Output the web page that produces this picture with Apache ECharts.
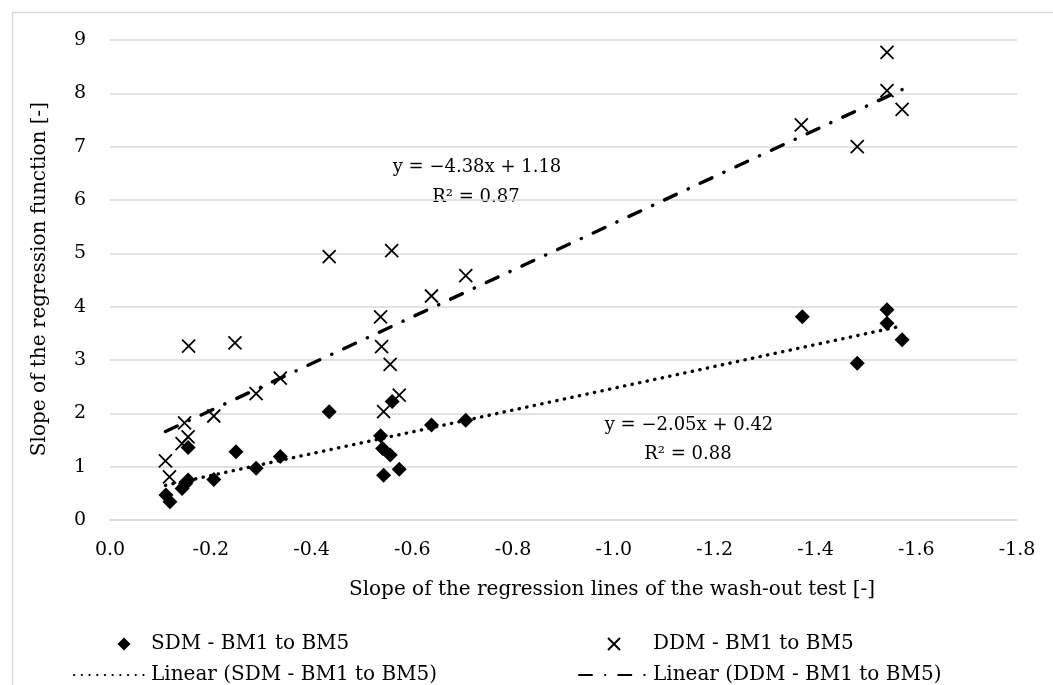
<!DOCTYPE html>
<html>
<head>
<meta charset="utf-8">
<script src="https://cdn.jsdelivr.net/npm/echarts@6/dist/echarts.min.js"></script>
<style>html,body{margin:0;padding:0;background:#fff}#c{width:1053px;height:685px}</style>
</head>
<body>
<div id="c"></div>
<script>
// SDM - BM1 to BM5 : [x, y]
var sdmPoints = [
  [-0.111, 0.47], [-0.119, 0.34], [-0.143, 0.59], [-0.150, 0.68], [-0.155, 0.75],
  [-0.155, 1.36], [-0.206, 0.76], [-0.250, 1.28], [-0.290, 0.97], [-0.338, 1.19],
  [-0.435, 2.03], [-0.537, 1.58], [-0.541, 1.34], [-0.556, 1.22], [-0.543, 0.84],
  [-0.560, 2.22], [-0.574, 0.95], [-0.638, 1.78], [-0.706, 1.87],
  [-1.374, 3.81], [-1.483, 2.94], [-1.542, 3.94], [-1.542, 3.69], [-1.572, 3.38]
];
// DDM - BM1 to BM5 : [x, y]
var ddmPoints = [
  [-0.110, 1.11], [-0.118, 0.81], [-0.143, 1.43], [-0.155, 1.56], [-0.148, 1.82],
  [-0.156, 3.26], [-0.206, 1.95], [-0.248, 3.32], [-0.290, 2.37], [-0.338, 2.66],
  [-0.435, 4.94], [-0.537, 3.81], [-0.539, 3.25], [-0.543, 2.03], [-0.556, 2.92],
  [-0.559, 5.05], [-0.574, 2.34], [-0.638, 4.20], [-0.706, 4.58],
  [-1.372, 7.41], [-1.483, 7.00], [-1.542, 8.77], [-1.542, 8.05], [-1.572, 7.70]
];
// Linear trend lines (end points)
var sdmTrend = [[-0.110, 0.65], [-1.572, 3.64]];
var ddmTrend = [[-0.110, 1.66], [-1.572, 8.07]];
var xTicks = { min: -1.8, max: 0, step: 0.2 };
var yTicks = { min: 0, max: 9, step: 1 };
var names = ['SDM - BM1 to BM5', 'DDM - BM1 to BM5', 'Linear (SDM - BM1 to BM5)', 'Linear (DDM - BM1 to BM5)'];
var eqDDM = ['y = \u22124.38x + 1.18', 'R\u00B2 = 0.87'];
var eqSDM = ['y = \u22122.05x + 0.42', 'R\u00B2 = 0.88'];
var xTitle = 'Slope of the regression lines of the wash-out test [-]';
var yTitle = 'Slope of the regression function [-]';

var FONT = 'DejaVu Serif';
var FS = 20;      // titles and legend
var FS_TICK = 19; // tick labels
var FS_EQ = 18;   // equation labels
var crossPath = 'path://M0,0L10,10M10,0L0,10';
// legend icons: glyph placed inside a wider invisible box so it sits right of centre like the reference
var diamondIcon = 'path://M0,0M72,14M50,0.5L56.5,7L50,13.5L43.5,7Z';
var crossIcon = 'path://M0,0M69,14M29,1L41,13M41,1L29,13';
var chart = echarts.init(document.getElementById('c'), null, { renderer: 'canvas' });
var txt = { fontFamily: FONT, fontSize: FS, color: '#000' };
var tickTxt = { fontFamily: FONT, fontSize: FS_TICK, color: '#000' };
var hidden = { color: 'rgba(0,0,0,0)', borderWidth: 0, opacity: 0 };
function t(x, y, s, size, rot) {
  return { type: 'text', x: x, y: y, rotation: rot || 0, silent: true,
    style: { text: s, align: 'center', verticalAlign: 'middle', font: size + 'px "' + FONT + '"', fill: '#000' } };
}
chart.setOption({
  animation: false,
  backgroundColor: '#fff',
  textStyle: { fontFamily: FONT },
  grid: { left: 110, right: 36, top: 40, bottom: 165, containLabel: false },
  xAxis: {
    type: 'value', inverse: true, min: xTicks.min, max: xTicks.max, interval: xTicks.step,
    axisLine: { show: true, onZero: false, lineStyle: { color: '#d9d9d9', width: 1.5 } },
    axisTick: { show: false },
    splitLine: { show: false },
    axisLabel: Object.assign({ margin: 21, formatter: function (v) { return (Math.abs(v) < 1e-9 ? 0 : v).toFixed(1); } }, tickTxt)
  },
  yAxis: {
    type: 'value', min: yTicks.min, max: yTicks.max, interval: yTicks.step,
    axisLine: { show: false }, axisTick: { show: false },
    splitLine: { show: true, lineStyle: { color: '#d9d9d9', width: 1.5 } },
    axisLabel: Object.assign({ margin: 24 }, tickTxt)
  },
  legend: [
    {
      left: 73, top: 634, height: 90, orient: 'vertical', padding: 0, itemWidth: 72, itemHeight: 14, itemGap: 11,
      textStyle: txt,
      data: [
        { name: names[0], icon: diamondIcon, itemStyle: { color: '#000' } },
        { name: names[2], itemStyle: hidden }
      ]
    },
    {
      left: 578, top: 634, height: 90, orient: 'vertical', padding: 0, itemWidth: 69, itemHeight: 14, itemGap: 11,
      textStyle: txt,
      data: [
        { name: names[1], icon: crossIcon },
        { name: names[3], itemStyle: hidden }
      ]
    }
  ],
  series: [
    {
      name: names[0], type: 'scatter', data: sdmPoints, symbol: 'diamond', symbolSize: 15,
      itemStyle: { color: '#000', opacity: 1 }, z: 3
    },
    {
      name: names[1], type: 'scatter', data: ddmPoints, symbol: crossPath, symbolSize: 13,
      itemStyle: { color: 'rgba(0,0,0,0)', borderColor: '#000', borderWidth: 1.8, opacity: 1 }, z: 3
    },
    {
      name: names[2], type: 'line', data: sdmTrend, symbol: 'none', z: 2,
      itemStyle: { color: '#000' },
      lineStyle: { color: '#000', width: 3.4, type: [0.3, 7.4], cap: 'round' }
    },
    {
      name: names[3], type: 'line', data: ddmTrend, symbol: 'none', z: 2,
      itemStyle: { color: '#000' },
      lineStyle: { color: '#000', width: 3.4, type: [13, 13, 0.3, 13], cap: 'round' }
    }
  ],
  graphic: [
    { type: 'rect', left: 10, top: 10, silent: true, z: -1, shape: { width: 1100, height: 700 }, style: { fill: 'none', stroke: '#d9d9d9', lineWidth: 1.5 } },
    t(612, 590, xTitle, FS),
    t(40, 279, yTitle, FS, Math.PI / 2),
    t(477, 167, eqDDM[0], FS_EQ),
    t(476, 197, eqDDM[1], FS_EQ),
    t(689, 425, eqSDM[0], FS_EQ),
    t(688, 454, eqSDM[1], FS_EQ)
  ]
});
</script>
</body>
</html>
